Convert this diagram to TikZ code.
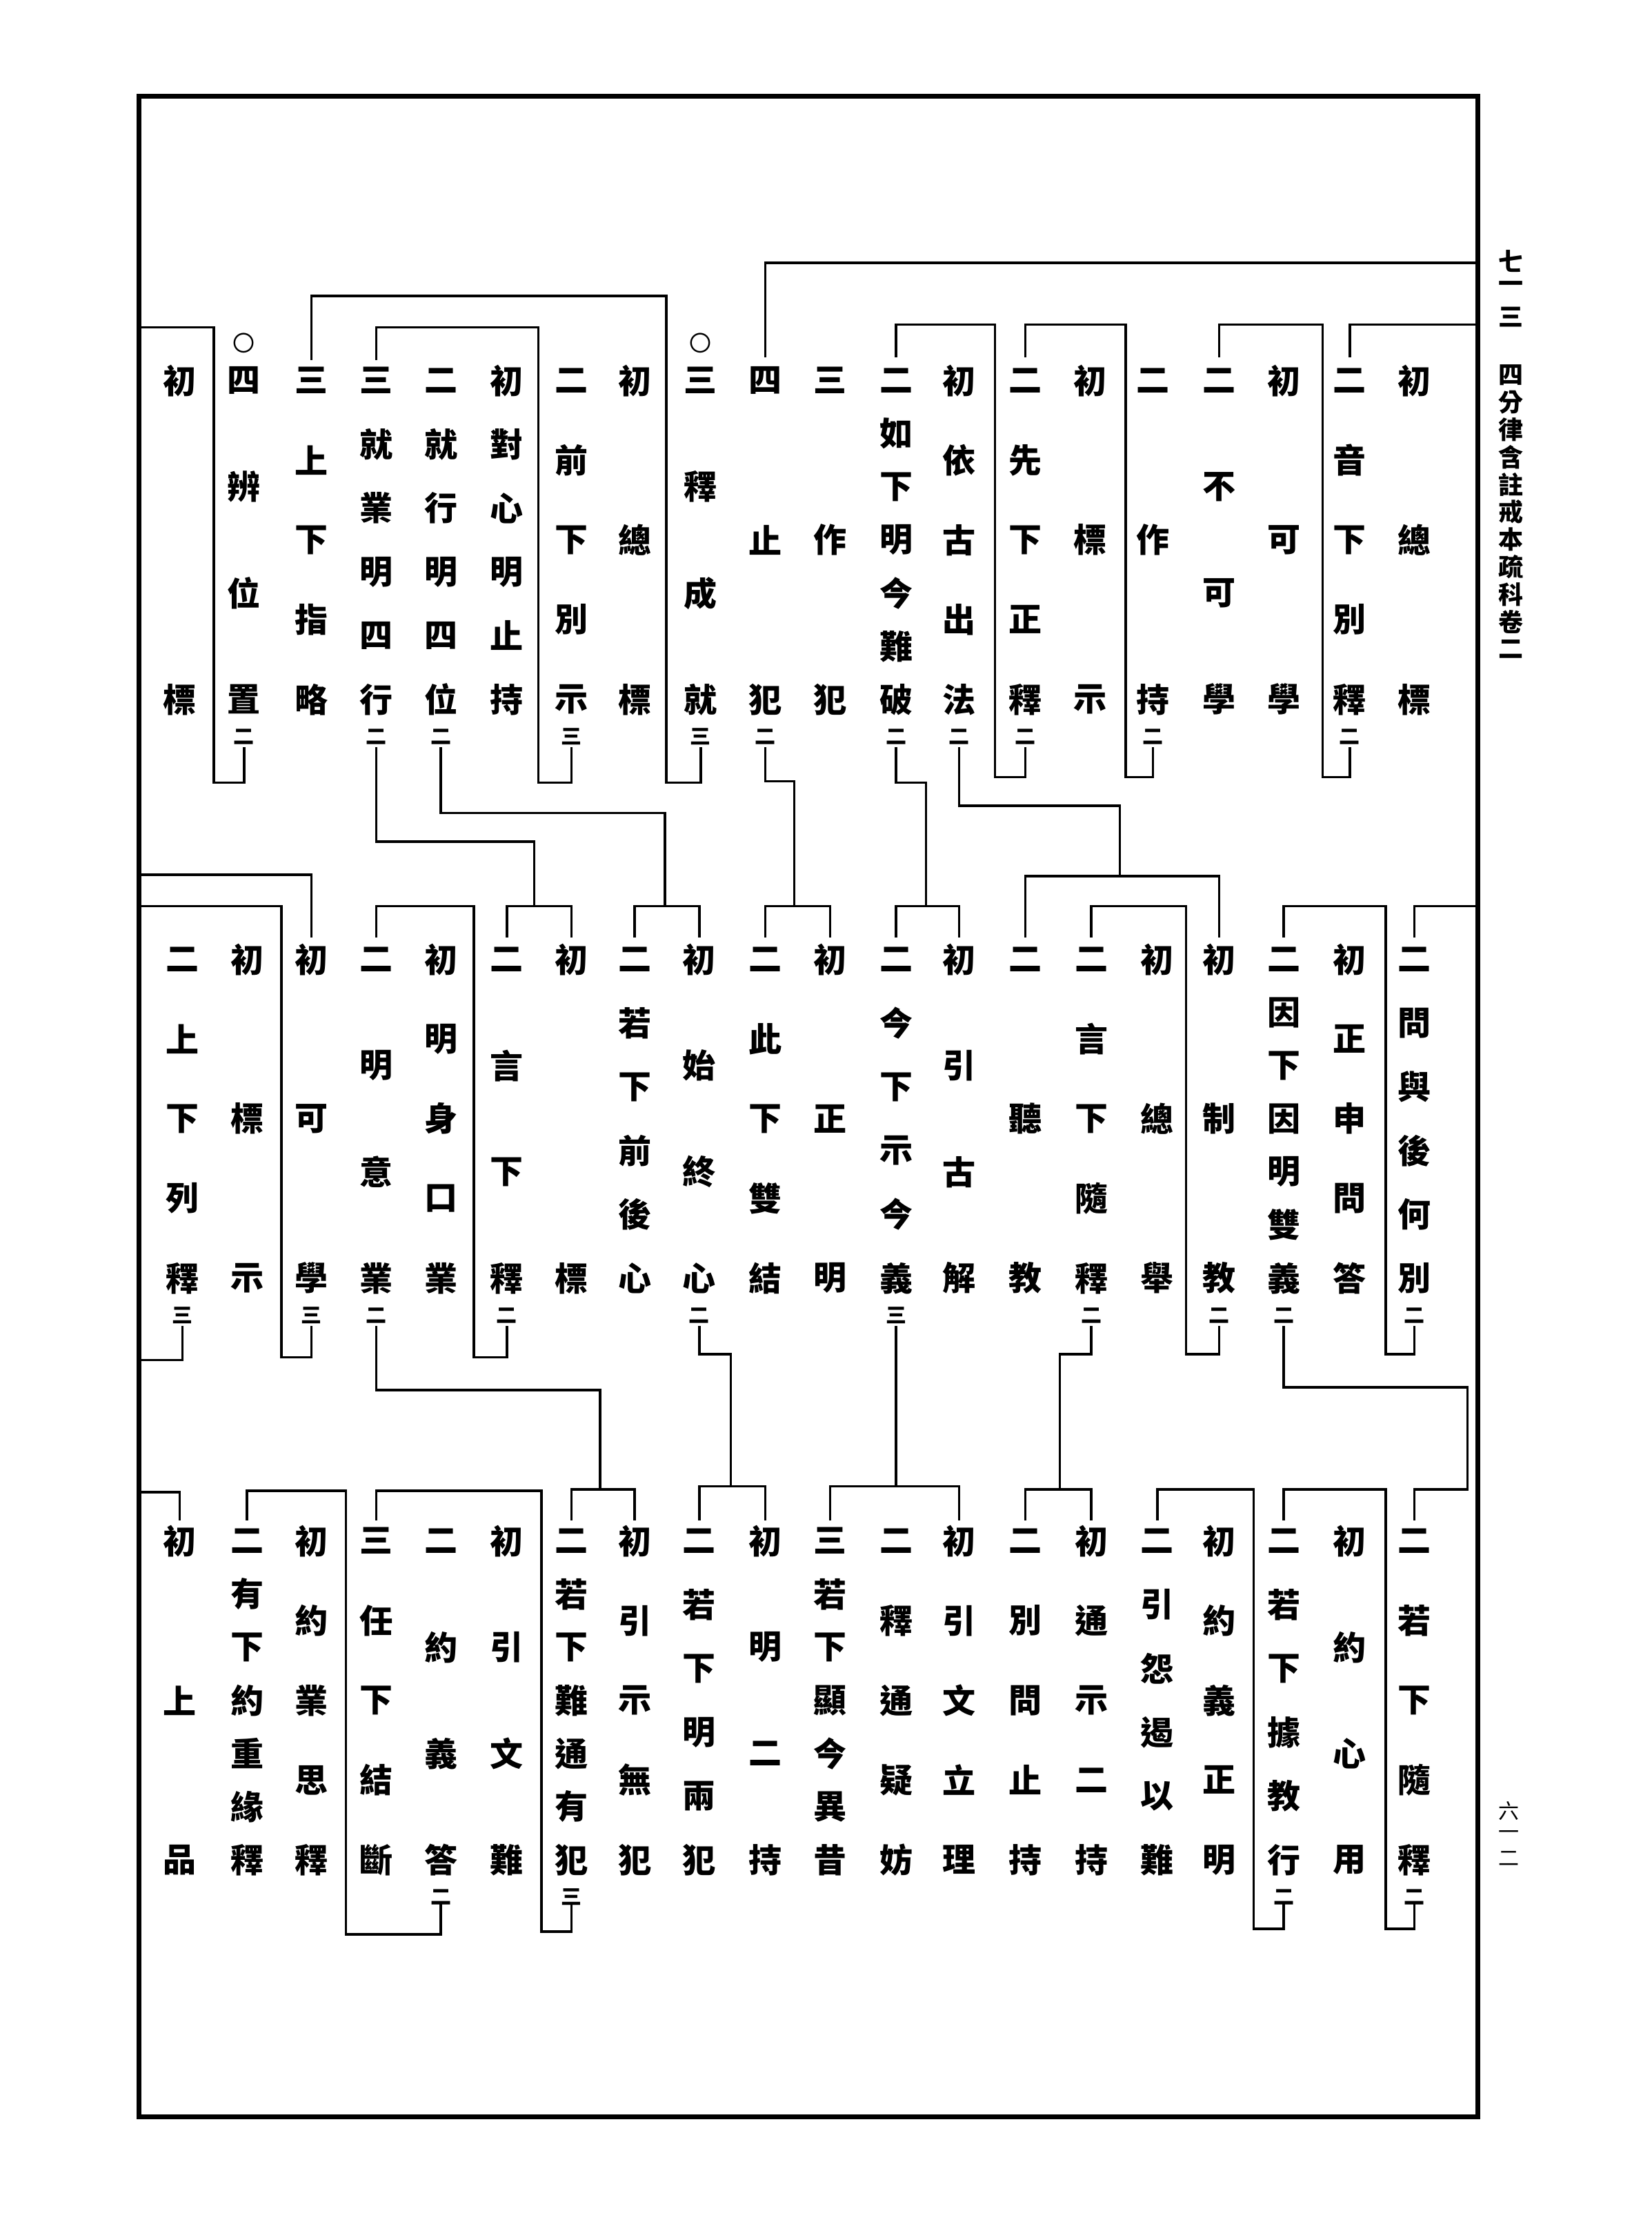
\documentclass[tikz,border=0pt]{standalone}
\usepackage{fontspec}
\newfontfamily\cj{Noto Sans CJK TC}
\newcommand\kc[6]{%
  \foreach \kch [count=\ki from 0] in {#4}{%
    \node[ch] (#1-\ki) at ({#2},{#3+222*\ki/(#5-1)}) {\kch};}%
  \node[sm] (#1-s) at ({#2},{#3+248}) {#6};}
\begin{document}
\begin{tikzpicture}[x=2.0817pt,y=-2.0817pt,
  ch/.style={font=\cj\bfseries\fontsize{48}{48}\selectfont,inner sep=0pt},
  sm/.style={font=\cj\bfseries\fontsize{30}{30}\selectfont,inner sep=0pt},
  hd/.style={font=\cj\bfseries\fontsize{36}{36}\selectfont,inner sep=0pt},
  pg/.style={font=\cj\fontsize{30}{30}\selectfont,inner sep=0pt},
  cir/.style={font=\cj\fontsize{32}{32}\selectfont,inner sep=0pt},
  ln/.style={line width=3.4pt,line cap=rect},
  bd/.style={line width=7pt}]
\useasboundingbox (0,0) rectangle (1150,1553.5);
\fill[white] (0,0) rectangle (1150,1553.5);
\draw[bd] (97,67) rectangle (1029,1474);
% margin
\node[hd] (h1) at (1052,182) {七};
\node[hd] (h2) at (1052,200) {一};
\node[hd] (h3) at (1052,221) {三};
\foreach \hc [count=\hi from 0] in {四,分,律,含,註,戒,本,疏,科,卷,二}{
  \node[hd] (t-\hi) at (1052,{261+19.1*\hi}) {\hc};}
\node[pg] (p1) at (1051,1261) {六};
\node[pg] (p2) at (1051,1278) {一};
\node[pg] (p3) at (1051,1294) {二};
% top band
\kc{t1}{985}{265}{初,總,標}{3}{}
\kc{t2}{940}{265}{二,音,下,別,釋}{5}{二}
\kc{t3}{894}{265}{初,可,學}{3}{}
\kc{t4}{849}{265}{二,不,可,學}{4}{}
\kc{t5}{803}{265}{二,作,持}{3}{二}
\kc{t6}{759}{265}{初,標,示}{3}{}
\kc{t7}{714}{265}{二,先,下,正,釋}{5}{二}
\kc{t8}{668}{265}{初,依,古,出,法}{5}{二}
\kc{t9}{624}{265}{二,如,下,明,今,難,破}{7}{二}
\kc{t10}{578}{265}{三,作,犯}{3}{}
\kc{t11}{533}{265}{四,止,犯}{3}{二}
\kc{t12}{488}{265}{三,釋,成,就}{4}{三}
\kc{t13}{442}{265}{初,總,標}{3}{}
\kc{t14}{398}{265}{二,前,下,別,示}{5}{三}
\kc{t15}{353}{265}{初,對,心,明,止,持}{6}{}
\kc{t16}{307}{265}{二,就,行,明,四,位}{6}{二}
\kc{t17}{262}{265}{三,就,業,明,四,行}{6}{二}
\kc{t18}{217}{265}{三,上,下,指,略}{5}{}
\kc{t19}{170}{265}{四,辨,位,置}{4}{二}
\kc{t20}{125}{265}{初,標}{2}{}
\node[cir] (o1) at (488,239) {〇};
\node[cir] (o2) at (170,239) {〇};
% middle band
\kc{m1}{985}{668}{二,問,與,後,何,別}{6}{二}
\kc{m2}{940}{668}{初,正,申,問,答}{5}{}
\kc{m3}{894}{668}{二,因,下,因,明,雙,義}{7}{二}
\kc{m4}{849}{668}{初,制,教}{3}{二}
\kc{m5}{806}{668}{初,總,舉}{3}{}
\kc{m6}{760}{668}{二,言,下,隨,釋}{5}{二}
\kc{m7}{714}{668}{二,聽,教}{3}{}
\kc{m8}{668}{668}{初,引,古,解}{4}{}
\kc{m9}{624}{668}{二,今,下,示,今,義}{6}{三}
\kc{m10}{578}{668}{初,正,明}{3}{}
\kc{m11}{533}{668}{二,此,下,雙,結}{5}{}
\kc{m12}{487}{668}{初,始,終,心}{4}{二}
\kc{m13}{442}{668}{二,若,下,前,後,心}{6}{}
\kc{m14}{398}{668}{初,標}{2}{}
\kc{m15}{353}{668}{二,言,下,釋}{4}{二}
\kc{m16}{307}{668}{初,明,身,口,業}{5}{}
\kc{m17}{262}{668}{二,明,意,業}{4}{二}
\kc{m18}{217}{668}{初,可,學}{3}{三}
\kc{m19}{172}{668}{初,標,示}{3}{}
\kc{m20}{127}{668}{二,上,下,列,釋}{5}{三}
% bottom band
\kc{b1}{985}{1073}{二,若,下,隨,釋}{5}{二}
\kc{b2}{940}{1073}{初,約,心,用}{4}{}
\kc{b3}{894}{1073}{二,若,下,據,教,行}{6}{二}
\kc{b4}{849}{1073}{初,約,義,正,明}{5}{}
\kc{b5}{806}{1073}{二,引,怨,遏,以,難}{6}{}
\kc{b6}{760}{1073}{初,通,示,二,持}{5}{}
\kc{b7}{714}{1073}{二,別,問,止,持}{5}{}
\kc{b8}{668}{1073}{初,引,文,立,理}{5}{}
\kc{b9}{624}{1073}{二,釋,通,疑,妨}{5}{}
\kc{b10}{578}{1073}{三,若,下,顯,今,異,昔}{7}{}
\kc{b11}{533}{1073}{初,明,二,持}{4}{}
\kc{b12}{487}{1073}{二,若,下,明,兩,犯}{6}{}
\kc{b13}{442}{1073}{初,引,示,無,犯}{5}{}
\kc{b14}{398}{1073}{二,若,下,難,通,有,犯}{7}{三}
\kc{b15}{353}{1073}{初,引,文,難}{4}{}
\kc{b16}{307}{1073}{二,約,義,答}{4}{二}
\kc{b17}{262}{1073}{三,任,下,結,斷}{5}{}
\kc{b18}{217}{1073}{初,約,業,思,釋}{5}{}
\kc{b19}{172}{1073}{二,有,下,約,重,緣,釋}{7}{}
\kc{b20}{125}{1073}{初,上,品}{3}{}
% ---- lines, top band
\draw[ln] (1029,183) -- (533,183) -- (533,248);
\draw[ln] (1029,226) -- (940,226) -- (940,248);
\draw[ln] (940,521) -- (940,541) -- (921,541) -- (921,226) -- (849,226) -- (849,248);
\draw[ln] (803,521) -- (803,541) -- (784,541) -- (784,226) -- (714,226) -- (714,248);
\draw[ln] (714,521) -- (714,541) -- (693,541) -- (693,226) -- (624,226) -- (624,248);
\draw[ln] (488,521) -- (488,545) -- (464,545) -- (464,206) -- (217,206) -- (217,250);
\draw[ln] (398,521) -- (398,545) -- (375,545) -- (375,228) -- (262,228) -- (262,250);
\draw[ln] (170,521) -- (170,545) -- (149,545) -- (149,228) -- (97,228);
\draw[ln] (668,521) -- (668,561) -- (780,561) -- (780,610);
\draw[ln] (624,521) -- (624,545) -- (645,545) -- (645,631);
\draw[ln] (533,521) -- (533,544) -- (553,544) -- (553,631);
\draw[ln] (307,521) -- (307,566) -- (463,566) -- (463,631);
\draw[ln] (262,521) -- (262,586) -- (372,586) -- (372,631);
% ---- middle band
\draw[ln] (1029,631) -- (985,631) -- (985,652);
\draw[ln] (985,924) -- (985,943) -- (965,943) -- (965,631) -- (894,631) -- (894,652);
\draw[ln] (894,924) -- (894,966) -- (1022,966) -- (1022,1037) -- (985,1037) -- (985,1058);
\draw[ln] (849,652) -- (849,610) -- (714,610) -- (714,652);
\draw[ln] (849,924) -- (849,943) -- (826,943) -- (826,631) -- (760,631) -- (760,652);
\draw[ln] (760,924) -- (760,943) -- (738,943) -- (738,1037);
\draw[ln] (668,652) -- (668,631) -- (624,631) -- (624,652);
\draw[ln] (624,924) -- (624,1035);
\draw[ln] (578,652) -- (578,631) -- (533,631) -- (533,652);
\draw[ln] (487,652) -- (487,631) -- (442,631) -- (442,652);
\draw[ln] (487,924) -- (487,943) -- (509,943) -- (509,1035);
\draw[ln] (398,652) -- (398,631) -- (353,631) -- (353,652);
\draw[ln] (353,924) -- (353,945) -- (330,945) -- (330,631) -- (262,631) -- (262,652);
\draw[ln] (262,924) -- (262,968) -- (418,968) -- (418,1037);
\draw[ln] (97,609) -- (217,609) -- (217,652);
\draw[ln] (217,924) -- (217,945) -- (196,945) -- (196,631) -- (97,631);
\draw[ln] (127,924) -- (127,947) -- (97,947);
% ---- bottom band
\draw[ln] (985,1325) -- (985,1343) -- (965,1343) -- (965,1037) -- (894,1037) -- (894,1058);
\draw[ln] (894,1325) -- (894,1343) -- (873,1343) -- (873,1037) -- (806,1037) -- (806,1058);
\draw[ln] (714,1058) -- (714,1037) -- (760,1037) -- (760,1058);
\draw[ln] (578,1058) -- (578,1035) -- (668,1035) -- (668,1058);
\draw[ln] (487,1058) -- (487,1035) -- (533,1035) -- (533,1058);
\draw[ln] (398,1058) -- (398,1037) -- (442,1037) -- (442,1058);
\draw[ln] (398,1325) -- (398,1345) -- (377,1345) -- (377,1038) -- (262,1038) -- (262,1058);
\draw[ln] (307,1325) -- (307,1347) -- (241,1347) -- (241,1038) -- (172,1038) -- (172,1058);
\draw[ln] (97,1039) -- (125,1039) -- (125,1058);
\end{tikzpicture}
\end{document}
